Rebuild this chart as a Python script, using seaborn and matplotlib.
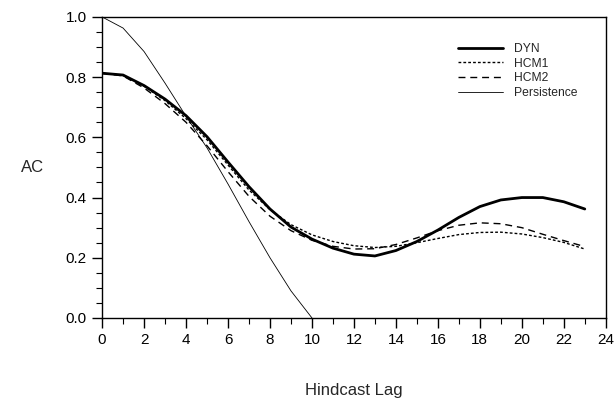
import numpy as np
import pandas as pd
import matplotlib
matplotlib.use("Agg")
import matplotlib.pyplot as plt
from matplotlib.ticker import MultipleLocator
import seaborn as sns

lags = list(range(24))
dyn = [0.813, 0.807, 0.772, 0.727, 0.672, 0.602, 0.518, 0.436, 0.362, 0.302, 0.262, 0.232, 0.212, 0.206,
       0.224, 0.254, 0.292, 0.334, 0.370, 0.392, 0.400, 0.400, 0.386, 0.362]
hcm1 = [0.813, 0.806, 0.770, 0.722, 0.662, 0.592, 0.508, 0.425, 0.360, 0.310, 0.276, 0.254, 0.240, 0.234,
        0.238, 0.250, 0.264, 0.277, 0.284, 0.285, 0.279, 0.267, 0.251, 0.229]
hcm2 = [0.813, 0.804, 0.764, 0.712, 0.650, 0.572, 0.486, 0.404, 0.338, 0.290, 0.258, 0.238, 0.229, 0.230,
        0.244, 0.266, 0.290, 0.308, 0.316, 0.313, 0.300, 0.278, 0.257, 0.237]
pers_lags = list(range(11))
persistence = [1.0, 0.963, 0.885, 0.78, 0.67, 0.565, 0.445, 0.32, 0.2, 0.09, 0.0]

sns.set_style("ticks")
plt.rcParams['font.family'] = ['Liberation Sans', 'DejaVu Sans']

fig = plt.figure(figsize=(6.15, 4.03), dpi=100)
ax = fig.add_axes([0.166, 0.211, 0.819, 0.747])

sns.lineplot(x=lags, y=dyn, ax=ax, color="black", linewidth=2.0, label="DYN")
sns.lineplot(x=lags, y=hcm1, ax=ax, color="black", linewidth=1.0, linestyle=(0, (2, 1.5)), label="HCM1")
sns.lineplot(x=lags, y=hcm2, ax=ax, color="black", linewidth=1.0, linestyle=(0, (5, 3.5)), label="HCM2")
sns.lineplot(x=pers_lags, y=persistence, ax=ax, color="black", linewidth=0.6, label="Persistence")

ax.set_xlim(0, 24)
ax.set_ylim(0, 1.0)
ax.xaxis.set_major_locator(MultipleLocator(2))
ax.xaxis.set_minor_locator(MultipleLocator(1))
ax.yaxis.set_major_locator(MultipleLocator(0.2))
ax.yaxis.set_minor_locator(MultipleLocator(0.05))
ax.set_yticklabels([f"{v:.1f}" for v in ax.get_yticks()])
ax.tick_params(which="major", direction="out", length=7, width=1, pad=4, labelsize=11,
               color="black", labelcolor="black")
ax.tick_params(which="minor", direction="out", length=4, width=0.8, color="black")
for s in ax.spines.values():
    s.set_color("black")
    s.set_linewidth(1.0)

ax.set_xlabel("Hindcast Lag", fontsize=12, labelpad=26)
ax.set_ylabel("AC", fontsize=12, rotation=0, labelpad=24, va="center")

leg = ax.legend(loc="upper right", bbox_to_anchor=(0.965, 0.95), frameon=False, fontsize=8.7,
                handlelength=3.7, handletextpad=0.9, labelspacing=0.22)

fig.savefig("out.png", dpi=100)
